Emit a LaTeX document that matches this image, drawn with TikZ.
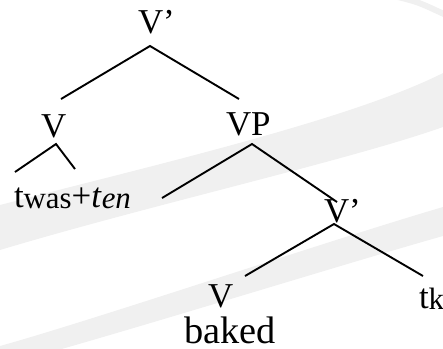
\documentclass[tikz,border=0pt]{standalone}
\usepackage{fontspec}
\setmainfont{Liberation Serif}
\newcommand{\subtxt}[1]{\raisebox{-1.5bp}{\fontsize{31}{34}\selectfont #1}}
\begin{document}
\begin{tikzpicture}[x=1bp,y=-1bp,
  lbl/.style={inner sep=0pt,outer sep=0pt,anchor=base west,font=\fontsize{35}{40}\selectfont},
  branch/.style={line width=1.9bp,black},
  band/.style={fill=black!6,draw=none}]
\useasboundingbox (0,0) rectangle (443,348);
\begin{scope}
\clip (0,0) rectangle (443,348);
\path[band] (0,205) .. controls (150,166) and (350,120) .. (443,73)
  -- (443,127) .. controls (350,160) and (150,205) .. (0,250) -- cycle;
\path[band] (0,346) .. controls (100,318) and (330,240) .. (443,207)
  -- (443,236) .. controls (330,268) and (100,340) .. (0,366) -- cycle;
\draw[black!6,line width=6bp] (398,-3) .. controls (418,2) .. (446,15);
\end{scope}
% nodes
\node[lbl] (root) at (138,33) {V’};
\node[lbl] (vl) at (41,137) {V};
\node[lbl] (vp) at (226,135) {VP};
\node[lbl] (tw) at (14,207) {t\subtxt{was}+\textit{t}\subtxt{\textit{en}}};
\node[lbl] (vbar) at (324,222) {V’};
\node[lbl] (vb) at (208,307) {V};
\node[lbl,font=\fontsize{38.5}{42}\selectfont] (baked) at (184,343) {baked};
\node[lbl] (tk) at (419,308) {t\subtxt{k}};
% connector end points
\coordinate (r0) at (150,46);
\coordinate (r1) at (61,99);
\coordinate (r2) at (239,99);
\coordinate (v0) at (56,144);
\coordinate (v1) at (15,172);
\coordinate (v2) at (75,169);
\coordinate (p0) at (252,144);
\coordinate (p1) at (162,198);
\coordinate (p2) at (337,202);
\coordinate (b0) at (334,224);
\coordinate (b1) at (245,276);
\coordinate (b2) at (423,276);
\draw[branch] (r1) -- (r0) -- (r2);
\draw[branch] (v1) -- (v0) -- (v2);
\draw[branch] (p1) -- (p0) -- (p2);
\draw[branch] (b1) -- (b0) -- (b2);
\end{tikzpicture}
\end{document}
